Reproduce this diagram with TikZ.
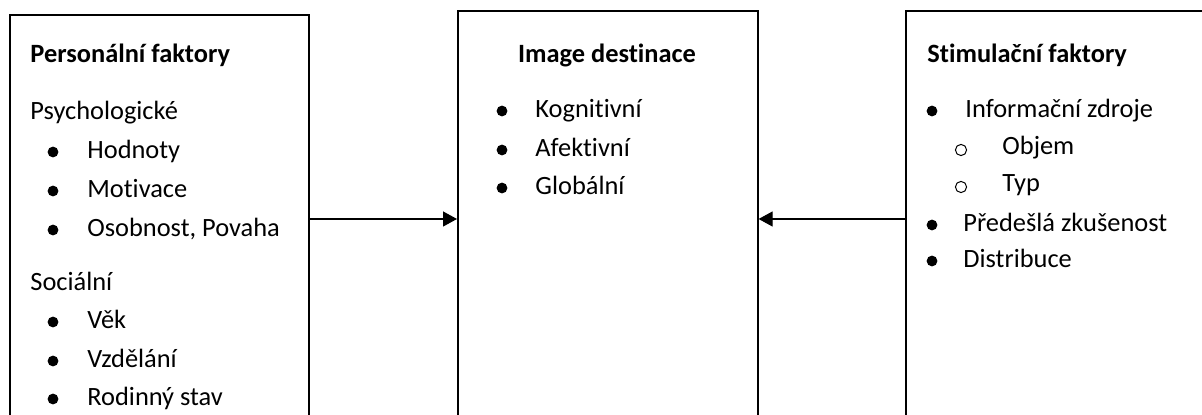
\documentclass[tikz,border=0pt]{standalone}
\usepackage{fontspec}
\setmainfont[Ligatures=NoCommon]{Carlito}
\usetikzlibrary{arrows.meta,positioning}

\begin{document}
\begin{tikzpicture}[x=0.5pt,y=-0.5pt,
    every node/.style={font=\fontsize{13.2}{16}\selectfont,inner sep=0pt},
    frame/.style={draw,line width=0.8pt,anchor=north west,minimum height=215pt},
    head/.style={anchor=base west,font=\fontsize{13.2}{16}\selectfont\bfseries},
    item/.style={anchor=base west},
    dot/.style={circle,fill,minimum size=5.4pt},
    ring/.style={circle,draw,line width=0.5pt,minimum size=5.6pt},
    arr/.style={line width=0.6pt,-{Triangle[length=7pt,width=7.5pt]}}
]
\useasboundingbox (0,0) rectangle (1202,415);

% the three boxes (cut off at the bottom)
\node[frame,minimum width=149.5pt,minimum height=213pt] (pers) at (9,14) {};
\node[frame,minimum width=150pt] (img) at (457,10) {};
\node[frame,minimum width=155pt] (stim) at (905,10) {};

% left box
\node[head] (perst) at (30,63) {Personální faktory};
\node[item] (psy) at (30,120) {Psychologické};
\node[dot] (d1) at (53,152) {};
\node[item] (hod) at (87,159) {Hodnoty};
\node[dot] (d2) at (53,191) {};
\node[item] (mot) at (87,198) {Motivace};
\node[dot] (d3) at (53,230) {};
\node[item] (oso) at (87,237) {Osobnost, Povaha};
\node[item] (soc) at (30,291) {Sociální};
\node[dot] (d4) at (53,322) {};
\node[item] (vek) at (87,329) {Věk};
\node[dot] (d5) at (53,361) {};
\node[item] (vzd) at (87,368) {Vzdělání};
\node[dot] (d6) at (53,399) {};
\node[item] (rod) at (87,406) {Rodinný stav};

% middle box
\node[head,anchor=base] (imgt) at (607,63) {Image destinace};
\node[dot] (d7) at (502,111) {};
\node[item] (kog) at (535,118) {Kognitivní};
\node[dot] (d8) at (502,150) {};
\node[item] (afe) at (535,157) {Afektivní};
\node[dot] (d9) at (502,188) {};
\node[item] (glo) at (535,195) {Globální};

% right box
\node[head] (stimt) at (927,63) {Stimulační faktory};
\node[dot] (d10) at (932,111) {};
\node[item] (inf) at (965,118) {Informační zdroje};
\node[ring] (r1) at (961,150) {};
\node[item] (obj) at (1002,155) {Objem};
\node[ring] (r2) at (961,187) {};
\node[item] (typ) at (1002,192) {Typ};
\node[dot] (d11) at (932,225) {};
\node[item] (pre) at (963,232) {Předešlá zkušenost};
\node[dot] (d12) at (932,261) {};
\node[item] (dis) at (963,268) {Distribuce};

% connectors
\coordinate (lvl) at (0,219);
\draw[arr] (pers.east |- lvl) -- (img.west |- lvl);
\draw[arr] (stim.west |- lvl) -- (img.east |- lvl);
\end{tikzpicture}
\end{document}
